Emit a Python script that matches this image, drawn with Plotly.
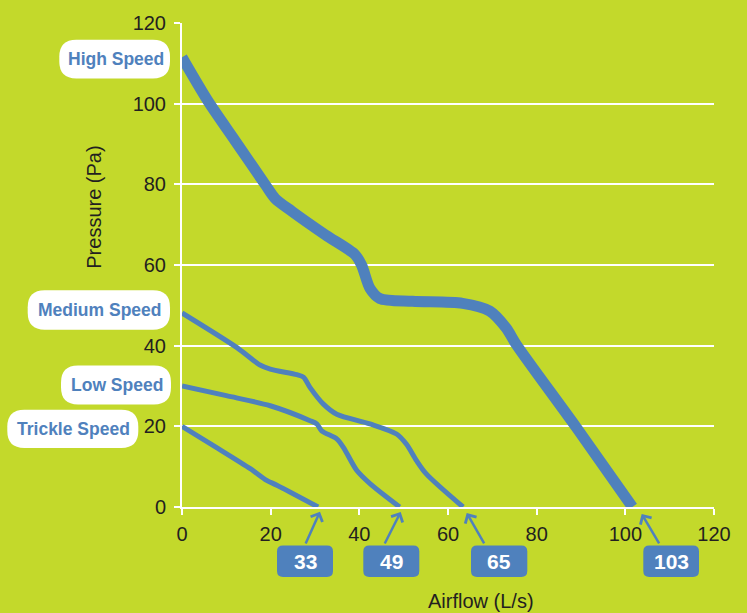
import plotly.graph_objects as go

# ---------------- data ----------------
series_names = ["High Speed", "Medium Speed", "Low Speed", "Trickle Speed"]

high_x = [0, 6, 12, 18.8, 21, 24.8, 32.3, 39, 40.5, 42.4, 44.6, 52, 63.3, 69.4, 73.1, 75.4, 88.9, 101.6]
high_y = [111.5, 100.4, 90.8, 79.9, 76.5, 73.3, 67.5, 62.6, 60.0, 54.2, 51.7, 51.0, 50.5, 48.6, 44.4, 40.3, 19.8, 0]

medium_x = [0, 12.4, 17.6, 19.9, 25.9, 27.4, 28.9, 31.9, 34.9, 42.4, 48.4, 50.6, 52.9, 55.1, 63.4]
medium_y = [48.1, 39.5, 35.2, 34.2, 32.8, 32.2, 29.6, 25.5, 23.0, 20.6, 18.1, 15.6, 11.5, 8.2, 0]

low_x = [0, 10, 19.9, 28.9, 30.4, 31.5, 34.9, 36.4, 39.4, 42.4, 49.1]
low_y = [30.0, 27.6, 25.1, 21.4, 20.6, 18.9, 16.9, 14.8, 9.1, 5.8, 0]

trickle_x = [0, 8, 15.4, 19.1, 21.4, 30.7]
trickle_y = [20.0, 14.6, 9.5, 6.6, 5.4, 0]

max_flow_labels = ["33", "49", "65", "103"]
tick_vals = [0, 20, 40, 60, 80, 100, 120]

# ---------------- style ----------------
BG = "#C3D92B"
BLUE = "#4F81BD"
TXT = "#231F20"
W, H = 747, 613
L, R, T, B = 182, 33, 21, 106
PW, PH = W - L - R, H - T - B


def px(xp):
    return (xp - L) / PW


def py(yp):
    return (H - B - yp) / PH


def rrect(x0, y0, x1, y1, r):
    # pixel coords (y down) -> paper path with rounded corners
    rx, ry = r / PW, r / PH
    X0, X1 = px(x0), px(x1)
    Yt, Yb = py(y0), py(y1)
    return (f"M {X0+rx},{Yt} L {X1-rx},{Yt} Q {X1},{Yt} {X1},{Yt-ry} "
            f"L {X1},{Yb+ry} Q {X1},{Yb} {X1-rx},{Yb} "
            f"L {X0+rx},{Yb} Q {X0},{Yb} {X0},{Yb+ry} "
            f"L {X0},{Yt-ry} Q {X0},{Yt} {X0+rx},{Yt} Z")


fig = go.Figure()
all_series = [(high_x, high_y, 11), (medium_x, medium_y, 5), (low_x, low_y, 5), (trickle_x, trickle_y, 5)]
for name, (xs, ys, w) in zip(series_names, all_series):
    fig.add_trace(go.Scatter(x=xs, y=ys, mode="lines", name=name,
                             line=dict(color=BLUE, width=w, shape="spline", smoothing=0.8),
                             showlegend=False, hoverinfo="skip"))

shapes = []
annotations = []

LABEL_FONT = "Liberation Sans, Arial"

# left speed labels (white pills)
label_boxes = [(59.3, 37.7, 170, 76.7), (27.7, 289.3, 170, 329), (61, 365, 171, 404), (7.3, 409.3, 138.3, 447.7)]
for name, (x0, y0, x1, y1) in zip(series_names, label_boxes):
    shapes.append(dict(type="path", xref="paper", yref="paper", path=rrect(x0, y0, x1, y1, 17),
                       fillcolor="white", line=dict(width=0)))
    annotations.append(dict(xref="paper", yref="paper", x=px((x0 + x1) / 2 + 1), y=py((y0 + y1) / 2),
                            text=f"<b>{name}</b>", showarrow=False, xanchor="center", yanchor="middle",
                            font=dict(family=LABEL_FONT, size=17.5, color=BLUE)))

# bottom max-flow boxes with arrows
box_x = [(277, 333), (363.3, 419.3), (471, 527.3), (643.3, 699)]
tips = [(320, 511.7), (400.7, 512), (466.7, 513), (641.7, 514)]
tails = [(305, 545), (384, 545), (485, 545), (660, 545)]
for lab, (x0, x1), (tx, ty), (sx, sy) in zip(max_flow_labels, box_x, tips, tails):
    shapes.append(dict(type="path", xref="paper", yref="paper", path=rrect(x0, 545.7, x1, 577.3, 6),
                       fillcolor=BLUE, line=dict(width=0)))
    annotations.append(dict(xref="paper", yref="paper", x=px((x0 + x1) / 2), y=py(561.5),
                            text=f"<b>{lab}</b>", showarrow=False, xanchor="center", yanchor="middle",
                            font=dict(family=LABEL_FONT, size=21, color="white")))
    annotations.append(dict(xref="paper", yref="paper", x=px(tx), y=py(ty), text="",
                            showarrow=True, ax=sx - tx, ay=sy - ty, arrowhead=4, arrowsize=1,
                            arrowwidth=2.5, arrowcolor=BLUE))

# axis titles
annotations.append(dict(xref="paper", yref="paper", x=px(481), y=py(601), text="Airflow (L/s)",
                        showarrow=False, xanchor="center", yanchor="middle",
                        font=dict(family="Liberation Sans, Arial", size=20, color=TXT)))
annotations.append(dict(xref="paper", yref="paper", x=px(94), y=py(206.5), text="Pressure (Pa)",
                        showarrow=False, xanchor="center", yanchor="middle", textangle=-90,
                        font=dict(family="Liberation Sans, Arial", size=20, color=TXT)))

fig.update_layout(
    width=W, height=H,
    margin=dict(l=L, r=R, t=T, b=B, pad=0),
    paper_bgcolor=BG, plot_bgcolor=BG,
    font=dict(family="Liberation Sans, Arial", size=20, color=TXT),
    shapes=shapes, annotations=annotations,
    xaxis=dict(range=[0, 120], tickvals=tick_vals, showgrid=False, zeroline=False,
               showline=True, linecolor="white", linewidth=2,
               ticks="outside", ticklen=6, tickwidth=2, tickcolor="white",
               tickfont=dict(size=20, color=TXT), ticklabelstandoff=2),
    yaxis=dict(range=[0, 120], tickvals=tick_vals, showgrid=True, gridcolor="white", gridwidth=2,
               zeroline=False, showline=True, linecolor="white", linewidth=2,
               ticks="outside", ticklen=6, tickwidth=2, tickcolor="white",
               tickfont=dict(size=20, color=TXT), ticklabelstandoff=4),
)

fig.write_html("out.html", config={"displayModeBar": False},
               post_script="document.body.style.margin='0';document.body.style.overflow='hidden';"
                           "document.body.style.background='" + BG + "';")
